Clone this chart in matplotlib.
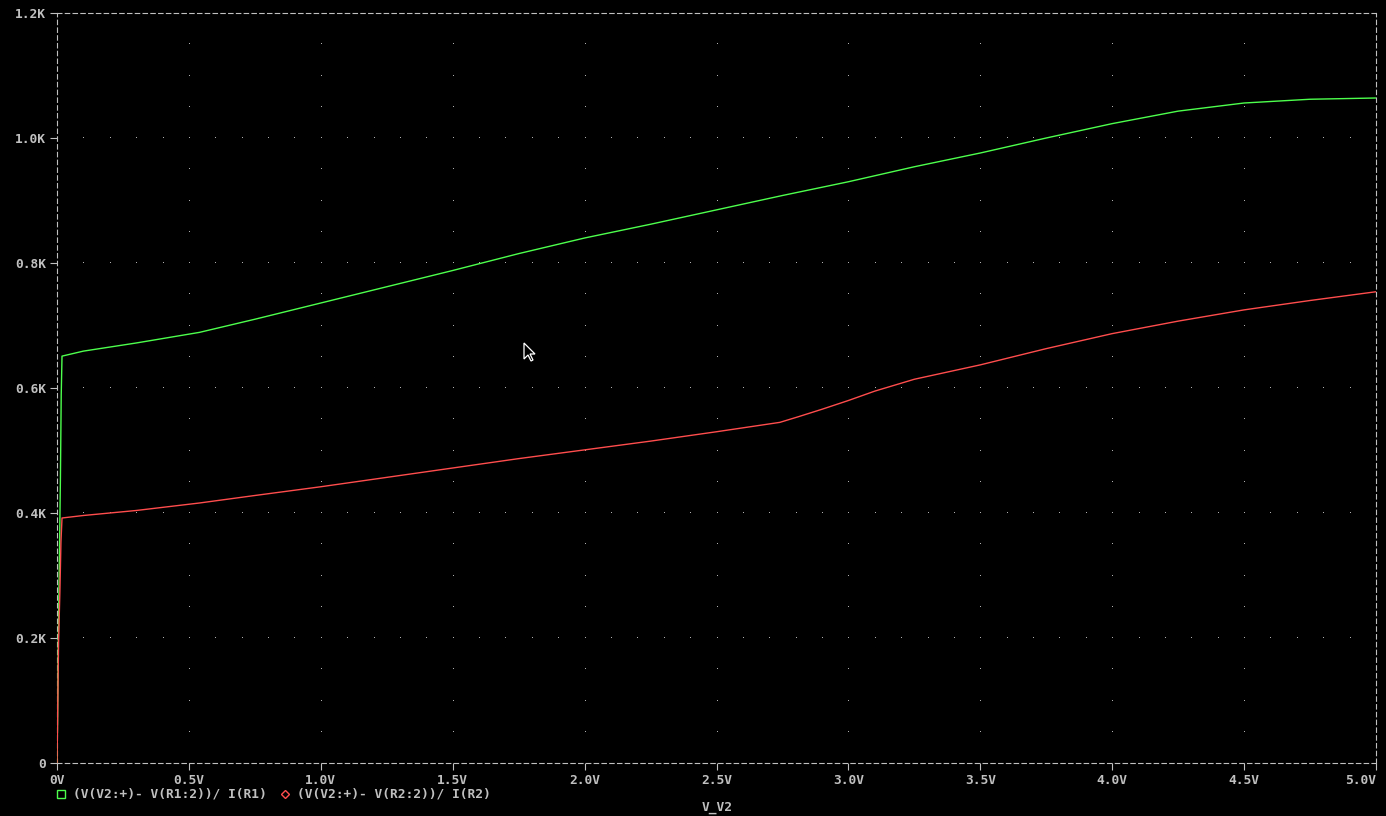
import numpy as np
import matplotlib
matplotlib.use('Agg')
import matplotlib.pyplot as plt
from matplotlib.lines import Line2D
from matplotlib.patches import Polygon

# sweep of V_V2 (V) and the two resistance traces (ohm)
v_r1 = [0, 0.002, 0.005, 0.009, 0.013, 0.016, 0.019, 0.1, 0.3, 0.54, 0.75, 1.0, 1.25, 1.5,
        1.75, 2.0, 2.25, 2.5, 2.75, 3.0, 3.25, 3.5, 3.75, 4.0, 4.25, 4.5, 4.75, 5.0]
res_r1 = [0, 64, 195, 326, 457, 589, 651, 659, 672, 689, 710, 736, 762, 788,
          815, 840, 862, 885, 908, 930, 954, 976, 1000, 1023, 1043, 1056, 1062, 1064]

v_r2 = [0, 0.002, 0.006, 0.011, 0.015, 0.019, 0.1, 0.3, 0.54, 0.75, 1.0, 1.25, 1.5,
        1.75, 2.0, 2.25, 2.5, 2.74, 2.81, 2.9, 3.0, 3.1, 3.25, 3.5, 3.75, 4.0, 4.25, 4.5, 4.75, 5.0]
res_r2 = [0, 64, 195, 275, 354, 392, 396, 404, 416, 428, 442, 457, 472,
          487, 501, 515, 530, 545, 554, 566, 580, 595, 614, 637, 663, 687, 707, 725, 740, 754]

x_ticks = [0, 0.5, 1.0, 1.5, 2.0, 2.5, 3.0, 3.5, 4.0, 4.5, 5.0]
x_labels = ['0V', '0.5V', '1.0V', '1.5V', '2.0V', '2.5V', '3.0V', '3.5V', '4.0V', '4.5V', '5.0V']
y_ticks = [0, 200, 400, 600, 800, 1000, 1200]
y_labels = ['0', '0.2K', '0.4K', '0.6K', '0.8K', '1.0K', '1.2K']

legend_r1 = '(V(V2:+)- V(R1:2))/ I(R1)'
legend_r2 = '(V(V2:+)- V(R2:2))/ I(R2)'

green = '#4dff4d'
red = '#ff4d4d'
gray = '#c0c0c0'
font = {'family': 'DejaVu Sans Mono', 'size': 9.3, 'weight': 'bold', 'color': gray}

fig = plt.figure(figsize=(13.86, 8.16), dpi=100, facecolor='black')
ax = fig.add_axes([57/1386, 1 - 763/816, 1319/1386, 750/816], facecolor='black')

ax.plot(v_r1, res_r1, color=green, linewidth=1.0, zorder=3)
ax.plot(v_r2, res_r2, color=red, linewidth=1.0, zorder=3)

ax.set_xlim(0, 5.0)
ax.set_ylim(0, 1200)

# dotted grid: single pixels along the major lines
for xv in x_ticks[1:-1]:
    ys = np.arange(50, 1200, 50)
    ax.plot([xv] * len(ys), ys, ',', color='#b0b0b0', zorder=1)
for yv in y_ticks[1:-1]:
    xs = np.arange(0.1, 5.0, 0.1)
    ax.plot(xs, [yv] * len(xs), ',', color='#b0b0b0', zorder=1)

for sp in ax.spines.values():
    sp.set_color(gray)
    sp.set_linestyle((0, (4, 3)))
    sp.set_linewidth(0.8)

ax.set_xticks(x_ticks)
ax.set_xticklabels(x_labels, fontdict=font)
ax.set_yticks(y_ticks)
ax.set_yticklabels(y_labels, fontdict=font)
ax.xaxis.get_ticklabels()[-1].set_horizontalalignment('right')
ax.tick_params(colors=gray, length=5, width=0.8, direction='out', pad=3)

# legend row below the axis
fig.add_artist(Line2D([61/1386], [1 - 794/816], marker='s', markersize=5.5,
                      markerfacecolor='none', markeredgecolor=green, markeredgewidth=1, linestyle='none'))
fig.text(73/1386, 1 - 794/816, legend_r1, va='center', ha='left', **font)
fig.add_artist(Line2D([285/1386], [1 - 794/816], marker='D', markersize=4.5,
                      markerfacecolor='none', markeredgecolor=red, markeredgewidth=1, linestyle='none'))
fig.text(297/1386, 1 - 794/816, legend_r2, va='center', ha='left', **font)
fig.text(717/1386, 1 - 808/816, 'V_V2', va='center', ha='center', **font)

# mouse pointer left in the screenshot
arrow = np.array([[0, 0], [0, 16], [4, 12], [7, 18], [9, 17], [6, 11], [11, 11]], dtype=float)
arrow[:, 0] = (524 + arrow[:, 0]) / 1386
arrow[:, 1] = 1 - (343 + arrow[:, 1]) / 816
fig.add_artist(Polygon(arrow, closed=True, facecolor='black', edgecolor='white',
                       linewidth=0.9, transform=fig.transFigure))

fig.savefig('out.png', dpi=100, facecolor='black')
